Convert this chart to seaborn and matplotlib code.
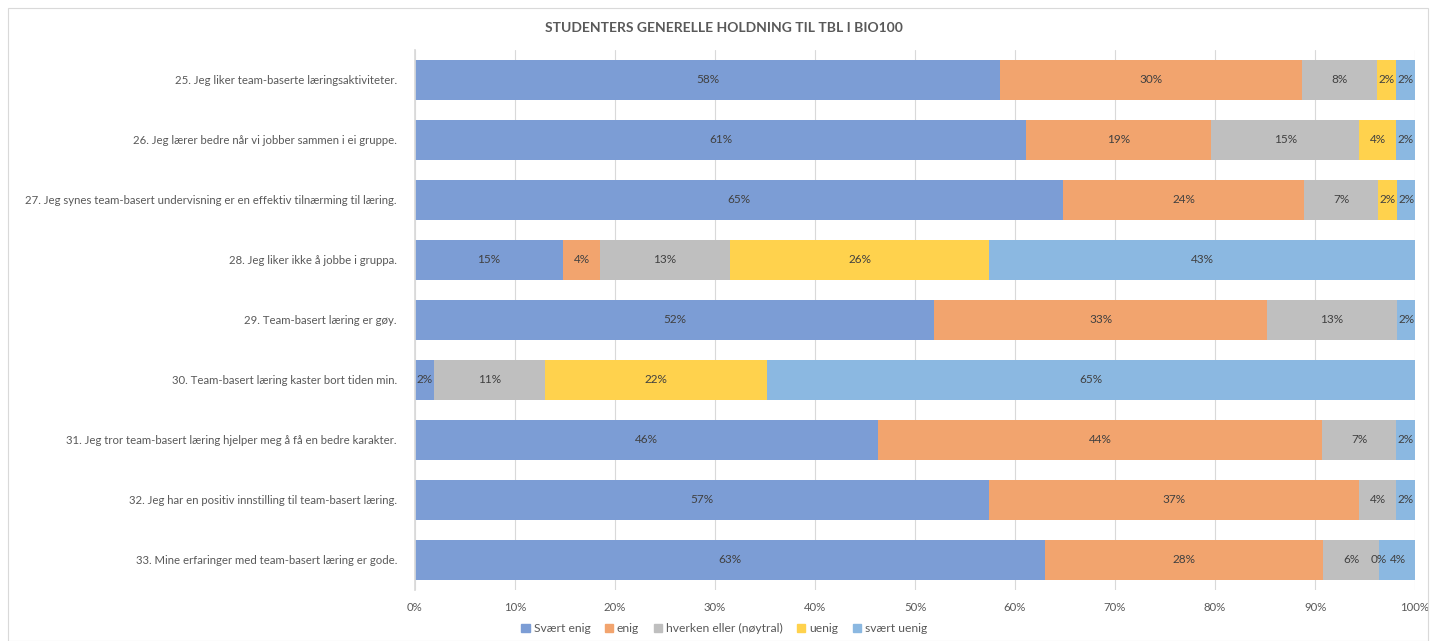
import numpy as np
import pandas as pd
import matplotlib.pyplot as plt
import matplotlib.patches as mpatches
import seaborn as sns

sns.set_theme(style='white')
plt.rcParams['font.family'] = ['Lato', 'DejaVu Sans']

questions = [
    '25. Jeg liker team-baserte læringsaktiviteter.',
    '26. Jeg lærer bedre når vi jobber sammen i ei gruppe.',
    '27. Jeg synes team-basert undervisning er en effektiv tilnærming til læring.',
    '28. Jeg liker ikke å jobbe i gruppa.',
    '29. Team-basert læring er gøy.',
    '30. Team-basert læring kaster bort tiden min.',
    '31. Jeg tror team-basert læring hjelper meg å få en bedre karakter.',
    '32. Jeg har en positiv innstilling til team-basert læring.',
    '33. Mine erfaringer med team-basert læring er gode.',
]
categories = ['Svært enig', 'enig', 'hverken eller (nøytral)', 'uenig',
              'svært uenig']

# share of answers in percent (nan = no answers / no label)
svaert_enig = [58.5, 61.1, 64.8, 14.8, 51.9, 1.9, 46.3, 57.4, 63.0]
enig = [30.2, 18.52, 24.1, 3.7, 33.3, np.nan, 44.4, 37.0, 27.8]
hverken = [7.5, 14.8, 7.4, 13.0, 13.0, 11.1, 7.4, 3.7, 5.6]
uenig = [1.9, 3.7, 1.9, 25.9, np.nan, 22.2, np.nan, np.nan, 0.0]
svaert_uenig = [1.9, 1.9, 1.9, 42.6, 1.9, 64.8, 1.9, 1.9, 3.7]

colors = ['#7c9dd5', '#f2a46e', '#bfbfbf', '#ffd24d', '#8bb8e1']

series = [svaert_enig, enig, hverken, uenig, svaert_uenig]
df = pd.DataFrame(dict(zip(categories, series)), index=questions)
cum = df.fillna(0).cumsum(axis=1)

fig = plt.figure(figsize=(14.34, 6.41), dpi=100)
ax = fig.add_axes([0.2894, 0.0796, 0.6974, 0.8424])

# draw cumulative bars from the right so the stack shows up
for cat, col in reversed(list(zip(categories, colors))):
    plot_df = pd.DataFrame({'q': questions, 'v': cum[cat].values})
    sns.barplot(data=plot_df, x='v', y='q', color=col, orient='h',
                width=0.667, saturation=1, ax=ax, zorder=2,
                edgecolor='none')

# segment labels
for i, q in enumerate(questions):
    left = 0
    for cat in categories:
        val = df.loc[q, cat]
        if pd.isna(val):
            continue
        ax.text(left + val / 2, i, f'{val:.0f}%', ha='center', va='center',
                fontsize=8.5, color='#404040', zorder=3)
        left += val

ax.set_xlim(0, 100)
ax.set_ylim(len(questions) - 0.5, -0.5)
ax.set_xticks(range(0, 101, 10))
ax.set_xticklabels([f'{t}%' for t in range(0, 101, 10)])
ax.set_xlabel('')
ax.set_ylabel('')
ax.grid(axis='x', color='#d9d9d9', linewidth=0.8, zorder=0)
ax.set_axisbelow(True)
for s in ['top', 'right', 'bottom']:
    ax.spines[s].set_visible(False)
ax.spines['left'].set_color('#d9d9d9')
ax.tick_params(axis='both', length=0, labelsize=8.2, colors='#595959')
ax.tick_params(axis='y', pad=13)
ax.tick_params(axis='x', pad=9)

fig.text(0.505, 0.956, 'STUDENTERS GENERELLE HOLDNING TIL TBL I BIO100',
         ha='center', va='center', fontsize=10, fontweight='bold',
         color='#595959')

handles = [mpatches.Patch(color=c, label=l)
           for c, l in zip(colors, categories)]
fig.legend(handles=handles, loc='center', bbox_to_anchor=(0.505, 0.019),
           ncol=5, frameon=False, fontsize=8.7, handlelength=0.7,
           handleheight=0.7, handletextpad=0.3, columnspacing=1.2,
           labelcolor='#595959')

# chart area border
fig.patches.append(mpatches.Rectangle((0.0056, 0.0), 0.99, 0.988,
                                      transform=fig.transFigure,
                                      fill=False, edgecolor='#d9d9d9',
                                      linewidth=0.8))

plt.savefig('out.png', dpi=100)
